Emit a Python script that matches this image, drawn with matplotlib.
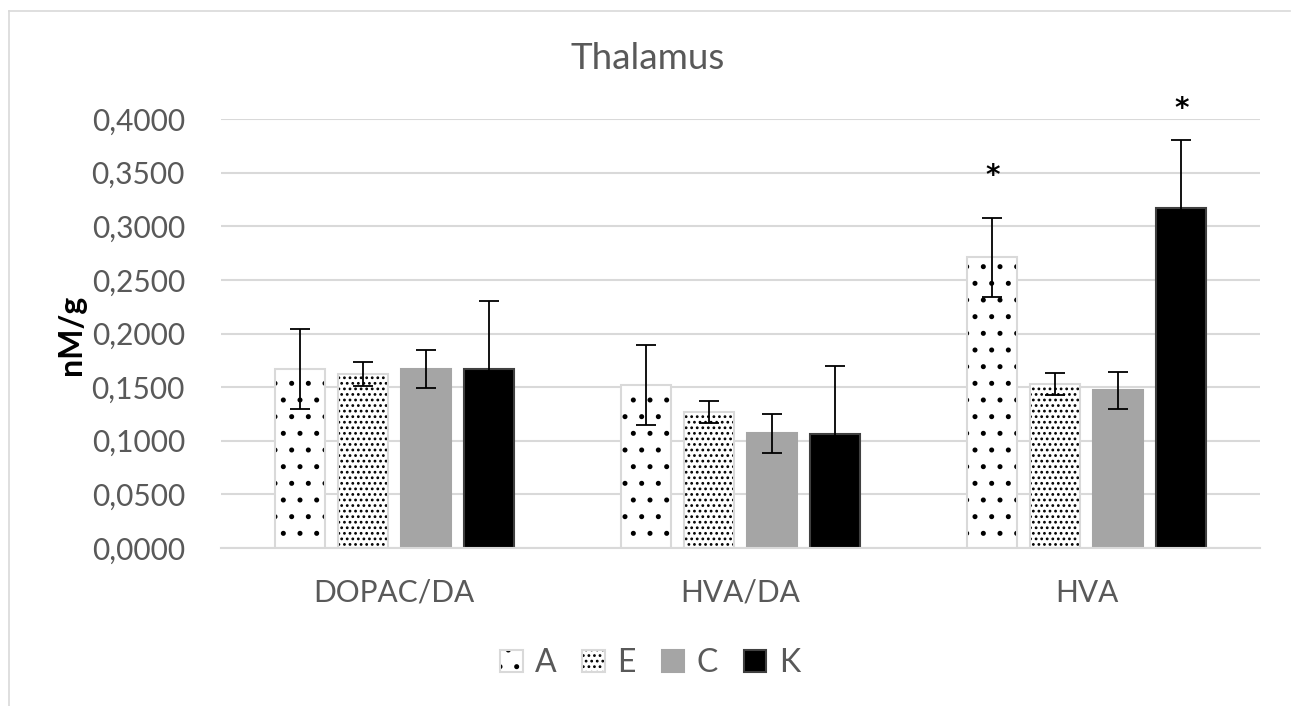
import numpy as np
import matplotlib
matplotlib.use("Agg")
import matplotlib.pyplot as plt
from matplotlib.patches import Patch
from matplotlib.lines import Line2D
from matplotlib.legend_handler import HandlerTuple

# ---- data ----
categories = ["DOPAC/DA", "HVA/DA", "HVA"]
groups = ["A", "E", "C", "K"]
values_A = [0.167, 0.152, 0.271]
values_E = [0.162, 0.127, 0.153]
values_C = [0.167, 0.107, 0.147]
values_K = [0.167, 0.106, 0.317]
err_A = [0.037, 0.037, 0.037]
err_E = [0.011, 0.010, 0.010]
err_C = [0.018, 0.018, 0.017]
err_K = [0.063, 0.064, 0.063]
# significance marks: (group, category index, label height)
sig_marks = [("A", 2, 0.354), ("K", 2, 0.416)]
y_ticks = [0.0, 0.05, 0.10, 0.15, 0.20, 0.25, 0.30, 0.35, 0.40]

series_values = [values_A, values_E, values_C, values_K]
series_errs = [err_A, err_E, err_C, err_K]

# ---- styling ----
FONT = ["Lato", "DejaVu Sans"]
plt.rcParams["font.family"] = FONT
plt.rcParams["hatch.linewidth"] = 1.2
TEXT_GREY = "#595959"
GRID_GREY = "#d9d9d9"
face = ["white", "white", "#a5a5a5", "black"]
hatch = [".", "...", None, None]
hatch_col = ["black", "black", "#a5a5a5", "black"]
edge = [GRID_GREY, GRID_GREY, "#a5a5a5", "#404040"]

W, H = 1293, 706
fig = plt.figure(figsize=(W / 100, H / 100), dpi=100)
ax = fig.add_axes([221 / W, 1 - 548 / H, (1260 - 221) / W, (548 - 119) / H])

x = np.arange(len(categories))
step = 0.182
bar_w = 0.144
offsets = (np.arange(len(groups)) - 1.5) * step

for i, g in enumerate(groups):
    xs = x + offsets[i]
    # filled / hatched body
    ax.bar(xs, series_values[i], width=bar_w, color=face[i],
           edgecolor=hatch_col[i], hatch=hatch[i], linewidth=0, zorder=2)
    # outline
    ax.bar(xs, series_values[i], width=bar_w, fill=False,
           edgecolor=edge[i], linewidth=1.5, zorder=2.5)
    ax.errorbar(xs, series_values[i], yerr=series_errs[i], fmt="none",
                ecolor="black", elinewidth=1.3, capsize=7, capthick=1.3,
                zorder=3)

for g, ci, yv in sig_marks:
    gi = groups.index(g)
    ax.annotate("*", xy=(x[ci] + offsets[gi], yv), xytext=(0, -11),
                textcoords="offset points", ha="center", va="baseline",
                fontsize=20, fontweight="bold", family="DejaVu Sans",
                color="black", annotation_clip=False)

ax.set_xlim(-0.5, 2.5)
ax.set_ylim(0, 0.4)
ax.set_yticks(y_ticks)
ax.set_yticklabels([f"{v:.4f}".replace(".", ",") for v in y_ticks])
ax.set_xticks(x)
ax.set_xticklabels(categories)
ax.tick_params(axis="y", length=0, pad=26, labelsize=21.5, labelcolor=TEXT_GREY)
ax.tick_params(axis="x", length=0, pad=22, labelsize=21.5, labelcolor=TEXT_GREY)
ax.yaxis.grid(True, color=GRID_GREY, linewidth=1.5, zorder=0)
ax.set_axisbelow(True)
for s in ["left", "right", "top"]:
    ax.spines[s].set_visible(False)
ax.spines["bottom"].set_color(GRID_GREY)
ax.spines["bottom"].set_linewidth(1.5)

fig.text(648 / W, 1 - 69 / H, "Thalamus", ha="center", va="baseline",
         fontsize=26.5, color=TEXT_GREY)
fig.text(71 / W, 1 - 335 / H, "nM/g", rotation=90, ha="center", va="center",
         fontsize=23, fontweight="bold", color="black")

# legend
handles = []
for i, g in enumerate(groups):
    body = Patch(facecolor=face[i], edgecolor=hatch_col[i], hatch=hatch[i], linewidth=0)
    outline = Patch(facecolor="none", edgecolor=edge[i], linewidth=1.5)
    handles.append((body, outline))
leg = fig.legend(handles, groups, loc="center", bbox_to_anchor=(650 / W, 1 - 663 / H),
                 ncol=4, frameon=False, fontsize=23, handlelength=0.7,
                 handleheight=0.7, handletextpad=0.4, columnspacing=0.8,
                 handler_map={tuple: HandlerTuple(ndivide=1, pad=0)})
for t in leg.get_texts():
    t.set_color(TEXT_GREY)

# chart frame (left and top edges)
fig.add_artist(Line2D([8.5 / W, 8.5 / W], [0, 1 - 10.5 / H], transform=fig.transFigure,
                      color=GRID_GREY, linewidth=1.2))
fig.add_artist(Line2D([8.5 / W, 1290 / W], [1 - 10.5 / H, 1 - 10.5 / H],
                      transform=fig.transFigure, color=GRID_GREY, linewidth=1.2))

fig.savefig("out.png", dpi=100, facecolor="white")
